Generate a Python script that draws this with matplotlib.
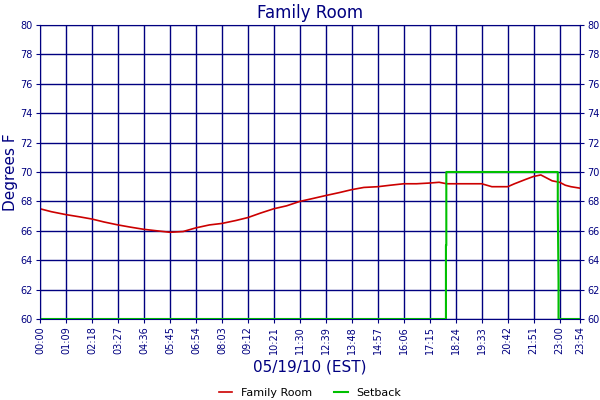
import matplotlib
matplotlib.use("Agg")
import matplotlib.pyplot as plt

tick_labels = ["00:00","01:09","02:18","03:27","04:36","05:45","06:54","08:03","09:12","10:21","11:30",
               "12:39","13:48","14:57","16:06","17:15","18:24","19:33","20:42","21:51","23:00","23:54"]
def m(s):
    h, mm = s.split(":"); return int(h)*60+int(mm)
tick_pos = [m(s) for s in tick_labels]

temp_times = ["00:00","00:30","01:09","01:45","02:18","02:50","03:27","04:00","04:36","05:10","05:45","06:20","06:54",
              "07:30","08:03","08:40","09:12","09:45","10:21","10:55","11:30","12:05","12:39","13:15","13:48","14:20",
              "14:57","15:30","16:06","16:40","17:15","17:40","18:00","18:24","19:00","19:33","20:00","20:42","21:00",
              "21:30","21:51","22:10","22:25","22:40","23:00","23:15","23:30","23:54"]
temp_vals = [67.5,67.3,67.1,66.95,66.8,66.6,66.4,66.25,66.1,66.0,65.9,65.95,66.2,
             66.4,66.5,66.7,66.9,67.2,67.5,67.7,68.0,68.2,68.4,68.6,68.8,68.95,
             69.0,69.1,69.2,69.2,69.25,69.3,69.2,69.2,69.2,69.2,69.0,69.0,69.2,
             69.5,69.7,69.8,69.6,69.4,69.3,69.1,69.0,68.9]
set_times = ["00:00","17:58","17:58","17:59","17:59","22:55","22:55","22:57","22:57","23:54"]
set_vals = [60,60,65,65,70,70,67.5,62.5,60,60]

fig = plt.figure(figsize=(6,4), dpi=100)
ax = fig.add_axes([40/600, 1-319/400, 540/600, 294/400])
navy = "#000080"
ax.plot([m(t) for t in temp_times], temp_vals, color="#cc0000", lw=1.2, label="Family Room")
ax.plot([m(t) for t in set_times], set_vals, color="#00c000", lw=1.5, label="Setback")
ax.set_xlim(0, 1434); ax.set_ylim(60, 80)
ax.set_xticks(tick_pos); ax.set_xticklabels(tick_labels, rotation=90)
ax.set_yticks(range(60, 81, 2))
ax.grid(True, color=navy, lw=1)
ax.tick_params(colors=navy, labelsize=7, right=True, labelright=True, length=3, pad=2)
for s in ax.spines.values(): s.set_color(navy)
ax.set_title("Family Room", color=navy, fontsize=12, pad=5)
ax.set_xlabel("05/19/10 (EST)", color=navy, fontsize=11)
ax.set_ylabel("Degrees F", color=navy, fontsize=11, labelpad=2)
leg = ax.legend(loc="upper center", bbox_to_anchor=(0.5, -0.2), ncol=2, frameon=False, fontsize=8,
                handlelength=1.2, columnspacing=2)
fig.savefig("out.png")
